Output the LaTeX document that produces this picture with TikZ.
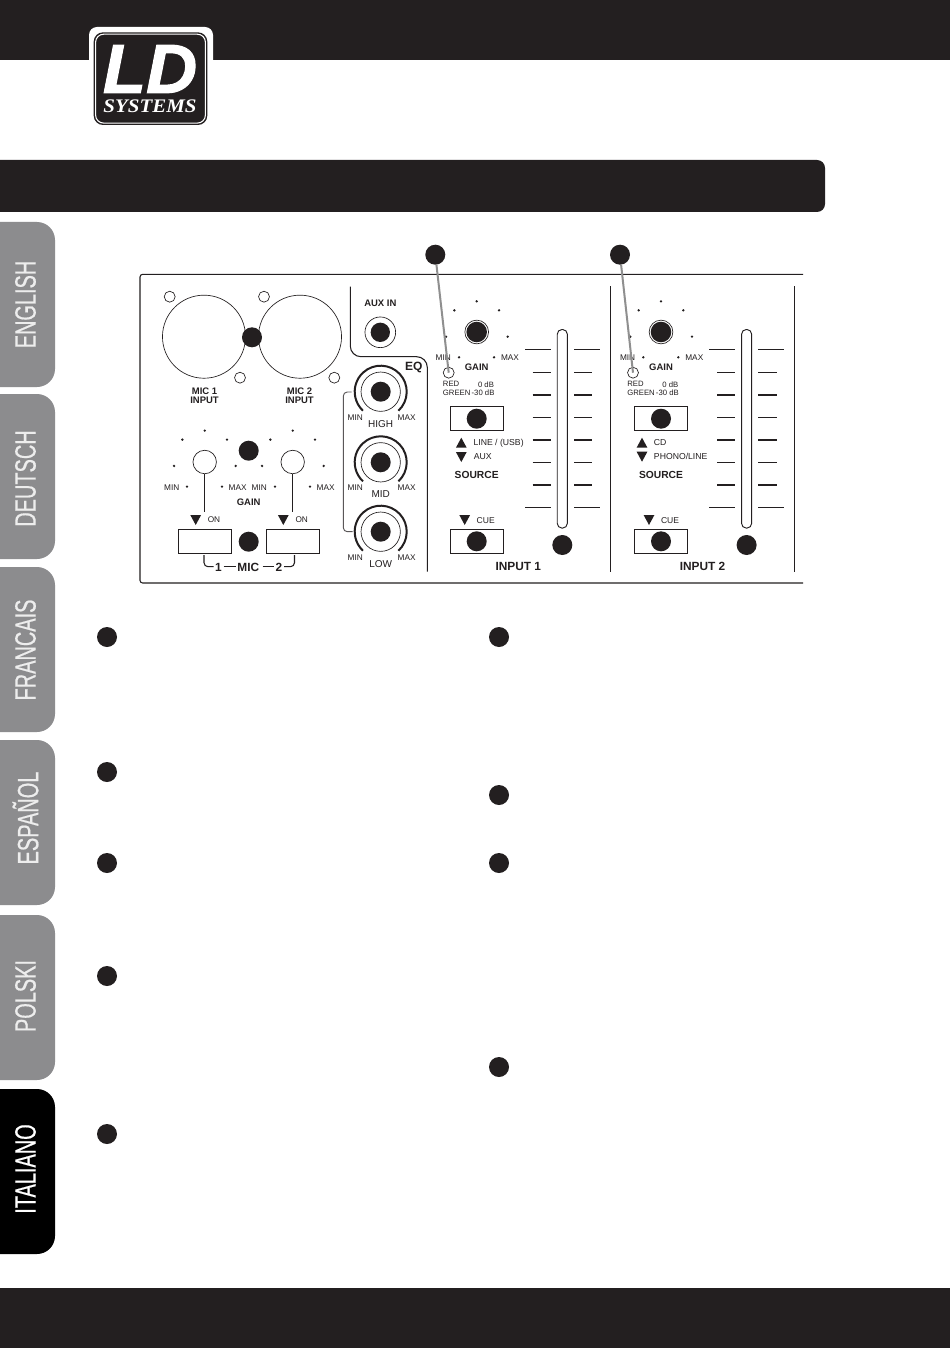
\documentclass[tikz,border=0pt]{standalone}
\usepackage{fontspec}
\setmainfont{Liberation Sans}
\newfontfamily\tabfont[FakeStretch=0.68,FakeBold=0.5]{Liberation Sans}
\newfontfamily\logosans[FakeBold=1.5,FakeStretch=1.02]{Liberation Sans}
\newfontfamily\logoserif{Liberation Serif}
\definecolor{ink}{HTML}{231F20}
\definecolor{tabgrey}{HTML}{8C8C8E}
\definecolor{tabtext}{HTML}{EDEDED}
\definecolor{leader}{HTML}{8F8F8F}
\newcommand{\tridn}[2]{\fill[ink] ({#1-5.4},{#2-5}) -- ({#1+5.4},{#2-5}) -- (#1,{#2+5}) -- cycle;}
\newcommand{\triup}[2]{\fill[ink] ({#1-5.4},{#2+5}) -- ({#1+5.4},{#2+5}) -- (#1,{#2-5}) -- cycle;}
\newcommand{\gaindots}[2]{%
  \foreach \dx/\dy in {0/-92, -67/-65, 67/-65, -92/14, 93/14, -53/76, 52/76}
    \fill[ink] ({#1+\dx/3},{#2+\dy/3}) circle (1.3);}
\newcommand{\tabshape}[6]{%
  \fill[#3] (0,#1) -- (37,#1) arc[start angle=-90,end angle=0,radius=18] -- (55,{#2-18}) arc[start angle=0,end angle=90,radius=18] -- (0,#2) -- cycle;
  \node[tabnode,text=#5] (#4) at (25.5,#6) {#4};}
\begin{document}
\begin{tikzpicture}[x=0.75pt,y=-0.75pt,
  badge/.style={circle,fill=ink,draw=none,minimum size=15pt,inner sep=0pt},
  hole/.style={circle,draw=ink,line width=0.5pt,fill=none,inner sep=0pt},
  lbl/.style={font=\fontsize{6.2pt}{7pt}\selectfont,text=ink,inner sep=0pt},
  ledlbl/.style={font=\fontsize{5.8pt}{7pt}\selectfont,text=ink,inner sep=0pt},
  blbl/.style={font=\fontsize{7.1pt}{8pt}\selectfont\bfseries,text=ink,inner sep=0pt},
  hlbl/.style={font=\fontsize{7.5pt}{8pt}\selectfont,text=ink,inner sep=0pt},
  srclbl/.style={font=\fontsize{6.5pt}{8pt}\selectfont,text=ink,inner sep=0pt,anchor=west},
  inlbl/.style={font=\fontsize{8.9pt}{10pt}\selectfont\bfseries,text=ink,inner sep=0pt},
  switchbox/.style={rectangle,draw=ink,line width=0.7pt,fill=white,minimum width=39.5pt,minimum height=18pt,inner sep=0pt},
  panel/.style={draw=ink,line width=0.8pt},
  tick/.style={draw=ink,line width=1.1pt},
  leaderline/.style={draw=leader,line width=1.5pt},
  tabnode/.style={font=\tabfont\fontsize{22pt}{22pt}\selectfont,rotate=90,inner sep=0pt},
  fader/.style={rectangle,rounded corners=3.6pt,draw=ink,line width=0.7pt,minimum width=7.6pt,minimum height=149pt,inner sep=0pt}]
\useasboundingbox (0,0) rectangle (950,1348);
\fill[white] (0,0) rectangle (950,1348);
% bands
\fill[ink] (0,0) rectangle (950,60);
\fill[ink] (0,1288) rectangle (950,1348);
\fill[ink] (0,160) -- (817,160) arc[start angle=-90,end angle=0,radius=8] -- (825,204) arc[start angle=0,end angle=90,radius=8] -- (0,212) -- cycle;
% logo
\fill[white,rounded corners=6pt] (89,27) rectangle (213,70);
\fill[white] (89,50) rectangle (213,128);
\fill[ink,rounded corners=7pt] (93.7,32.3) rectangle (207.3,125);
\draw[white,line width=0.8pt,rounded corners=6pt] (95.6,34.2) rectangle (205.4,123.1);
\node[inner sep=0pt,text=white,font=\logosans\fontsize{52pt}{52pt}\selectfont\bfseries\itshape] (logold) at (150,69) {LD};
\node[inner sep=0pt,text=white,xscale=1.09,font=\logoserif\fontsize{14.4pt}{15pt}\selectfont\bfseries\itshape] (logosys) at (150,106.5) {SYSTEMS};
% tabs
\tabshape{222}{387}{tabgrey}{ENGLISH}{tabtext}{304.5}
\tabshape{394}{559}{tabgrey}{DEUTSCH}{tabtext}{478.5}
\tabshape{567}{732}{tabgrey}{FRANCAIS}{tabtext}{650}
\tabshape{740}{905}{tabgrey}{ESPAÑOL}{tabtext}{818}
\tabshape{915}{1080}{tabgrey}{POLSKI}{tabtext}{996}
\tabshape{1089}{1254}{black}{ITALIANO}{white}{1169}
% panel
\draw[panel,rounded corners=2pt] (803,274.3) -- (140,274.3) -- (140,583) -- (803,583);
\draw[panel,rounded corners=8pt] (350.3,286.7) -- (350.3,356.7) -- (427.3,356.7) -- (427.3,571.7);
\draw[panel] (610.3,286) -- (610.3,571.7);
\draw[panel] (794.3,286) -- (794.3,571.7);
% XLR
\node[hole,minimum size=62.3pt] (xlra) at (204,336.7) {};
\node[hole,minimum size=62.3pt] (xlrb) at (300,336.7) {};
\node[hole,minimum size=8.2pt] (ha) at (169.7,296.7) {};
\node[hole,minimum size=8.2pt] (hb) at (264,296.7) {};
\node[hole,minimum size=8.2pt] (hc) at (240,377.7) {};
\node[hole,minimum size=8.2pt] (hd) at (334.3,377.7) {};
\node[badge] (b1) at (252,337.3) {};
\node[blbl,align=center] (mic1) at (204.5,395.5) {MIC 1\\[-0.9pt]INPUT};
\node[blbl,align=center] (mic2) at (299.5,395.5) {MIC 2\\[-0.9pt]INPUT};
% mic gain
\gaindots{204.7}{461.3}
\gaindots{292.7}{461.3}
\node[hole,minimum size=17.6pt] (ka) at (204.7,462) {};
\node[hole,minimum size=17.6pt] (kb) at (292.7,462) {};
\node[badge] (b2) at (248.7,450.7) {};
\node[lbl] (mina) at (171.7,488) {MIN};
\node[lbl] (maxa) at (237.7,488) {MAX};
\node[lbl] (minb) at (259.3,488) {MIN};
\node[lbl] (maxb) at (325.7,488) {MAX};
\node[blbl] (gaina) at (248.7,502.7) {GAIN};
\coordinate (ea) at (204.7,511.7);
\coordinate (eb) at (292.7,511.7);
\draw[draw=ink,line width=0.7pt] (ka) -- (ea);
\draw[draw=ink,line width=0.7pt] (kb) -- (eb);
\tridn{195.7}{520}
\tridn{283.3}{520}
\node[lbl] (ona) at (214,520) {ON};
\node[lbl] (onb) at (301.7,520) {ON};
\node[switchbox] (swa) at (204.8,541.5) {};
\node[switchbox] (swb) at (292.8,541.5) {};
\node[badge] (b3) at (248.7,541.7) {};
\node[inlbl] (n1) at (218.3,567) {1};
\node[inlbl] (micl) at (248.3,567) {MIC};
\node[inlbl] (n2) at (279,567) {2};
\draw[draw=ink,line width=0.8pt,rounded corners=3pt] (204,555) -- (204,566.7) -- (213.5,566.7);
\draw[draw=ink,line width=0.8pt] (223.5,566.7) -- (236,566.7);
\draw[draw=ink,line width=0.8pt] (262.5,566.7) -- (274,566.7);
\draw[draw=ink,line width=0.8pt,rounded corners=3pt] (284,566.7) -- (294.5,566.7) -- (294.5,555);
% aux
\node[blbl] (auxl) at (380.3,303.3) {AUX IN};
\node[hole,minimum size=23pt] (auxo) at (380.3,332.3) {};
\node[badge,minimum size=14.5pt] (auxi) at (380.3,332.3) {};
% EQ
\node[font=\fontsize{9pt}{10pt}\selectfont\bfseries,text=ink,inner sep=0pt] (eql) at (413.7,367) {EQ};
\foreach \nm/\yy/\txt in {high/391.7/HIGH,mid/462.3/MID,low/531.7/LOW}{
  \node[hole,minimum size=29.5pt] (k\nm) at (380.7,\yy) {};
  \node[badge] (d\nm) at (380.7,\yy) {};
  \draw[draw=ink,line width=1.5pt] ({380.7+26*cos(47)},{\yy+26*sin(47)}) arc[start angle=47,end angle=-227,radius=26];
  \node[lbl] at (355.3,{\yy+25.7}) {MIN};
  \node[lbl] at (406.7,{\yy+25.7}) {MAX};
  \node[hlbl] at (380.7,{\yy+32.2}) {\txt};
}
\draw[draw=ink!75,line width=0.7pt,rounded corners=3pt] (351.5,392) -- (343.3,392) -- (343.3,531.7) -- (352.5,531.7);
% input channels
\foreach \o/\ch in {0/a,184.3/b}{
  \gaindots{476.7+\o}{332}
  \node[hole,minimum size=17.8pt] (g\ch) at ({476.7+\o},332) {};
  \node[circle,fill=ink,minimum size=15.4pt,inner sep=0pt] at ({476.7+\o},332) {};
  \node[lbl] at ({443.3+\o},358) {MIN};
  \node[lbl] at ({510+\o},358) {MAX};
  \node[blbl] at ({476.7+\o},367.7) {GAIN};
  \node[hole,minimum size=8.2pt] (led\ch) at ({448.7+\o},372.7) {};
  \node[ledlbl,anchor=west] at ({442.7+\o},384.3) {RED};
  \node[ledlbl,anchor=east] at ({494.2+\o},384.3) {0 dB};
  \node[ledlbl,anchor=west] at ({442.7+\o},393) {GREEN};
  \node[ledlbl,anchor=east] at ({494.7+\o},393) {-30 dB};
  \node[switchbox] at ({476.8+\o},418.3) {};
  \node[badge] at ({476.7+\o},418.7) {};
  \node[font=\fontsize{7.7pt}{9pt}\selectfont\bfseries,text=ink,inner sep=0pt] at ({476.7+\o},474.7) {SOURCE};
  \tridn{464.7+\o}{520}
  \node[lbl,font=\fontsize{6.4pt}{7pt}\selectfont] at ({485.7+\o},520.3) {CUE};
  \node[switchbox] at ({476.8+\o},541.5) {};
  \node[badge] at ({476.7+\o},541.3) {};
  \node[fader] at ({562.3+\o},428.8) {};
  \node[badge] at ({562.3+\o},545) {};
  \node[inlbl] at ({518.3+\o},566.7) {INPUT \ifnum\pdfstrcmp{\ch}{a}=0 1\else 2\fi};
  \foreach \yy/\lx/\rx in {349.7/525/600,372.7/532.7/592.3,395/532.7/592.3,417.7/532.7/592.3,440/532.7/592.3,462.3/532.7/592.3,485/532.7/592.3,507.7/525/600}{
    \draw[tick] ({\lx+\o},\yy) -- ({551+\o},\yy);
    \draw[tick] ({574+\o},\yy) -- ({\rx+\o},\yy);
  }
}
\triup{461.3}{442.7}
\tridn{461.3}{457}
\node[srclbl] (linel) at (473.3,443) {LINE / (USB)};
\node[srclbl] (auxs) at (473.6,457) {AUX};
\triup{642}{442.7}
\tridn{642}{456.7}
\node[srclbl] (cdl) at (653.7,443) {CD};
\node[srclbl] (phono) at (653.7,456.7) {PHONO/LINE};
% leader badges
\node[badge] (t1) at (435.3,254.7) {};
\node[badge] (t2) at (620,254.7) {};
\draw[leaderline] (t1) -- (leda.center);
\draw[leaderline] (t2) -- (ledb.center);
% column badges
\foreach \xx/\yy/\nm in {107/637/c1,107/772/c2,107/863/c3,107/976/c4,107/1134/c5,499/637/c6,499/795/c7,499/863/c8,499/1067/c9}
  \node[badge] (\nm) at (\xx,\yy) {};
\end{tikzpicture}
\end{document}
